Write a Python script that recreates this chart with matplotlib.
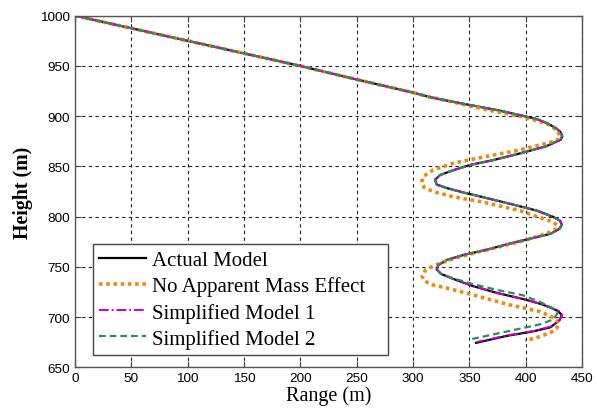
import matplotlib.pyplot as plt

# данные: Range (m) / Height (m)
actual_x = [0, 50, 100, 150, 200, 250, 275, 300, 315, 330, 351, 375, 395, 410, 419, 427, 431, 432.5,
            431, 427.5, 418, 395, 370, 351, 335, 324, 319.5, 321, 330, 345, 360, 389, 410, 424,
            430.5, 432, 430, 422, 407, 385, 365, 345, 330, 322.5, 321, 325, 336, 353, 375, 398,
            414, 422, 429, 432, 430, 422, 407, 383, 356]
actual_y = [1000, 987.5, 975, 962.5, 950, 936.5, 930, 923.5, 919, 915.5, 911, 906, 901, 897, 893, 888, 884, 880,
            876.5, 874.8, 870, 863, 856, 851.6, 846, 841.5, 836.7, 832, 828.5, 824, 820, 812, 806, 800,
            796, 792, 788, 783, 779, 773, 767, 762, 757, 752, 747.5, 743, 738, 731, 724, 718,
            713, 709.5, 706, 702, 697, 690, 686, 681.4, 674.5]

noam_x = [0, 50, 100, 150, 200, 250, 275, 300, 315, 336, 365, 395, 418, 428, 430.5, 429, 425, 418.6,
          395, 365.4, 335.8, 318, 309, 307.5, 310, 318, 335, 360, 395, 413, 424, 428, 427, 420,
          401, 380, 360, 338, 320, 311, 308, 310, 318, 330, 354, 383, 413, 427.5, 429.5, 427,
          422, 410, 399.4]
noam_y = [1000, 987.5, 975, 962.5, 950, 936.5, 930, 923.5, 919, 914, 906.5, 900, 893, 886, 880, 877, 875, 873,
          866.5, 860, 853.3, 846.6, 840, 834, 829, 825, 820, 815, 806, 799, 795, 791.5, 788, 784,
          777, 771, 765.5, 759, 752, 747, 741, 736, 732, 729, 722, 713, 705.5, 698, 693, 688.5,
          684.7, 679.8, 676.5]

simp1_x = [0, 50, 100, 150, 200, 250, 275, 300, 315, 330, 351, 375, 395, 410, 419, 427, 431, 432.5,
           431, 427.5, 418, 395, 370, 351, 335, 324, 319.5, 321, 330, 345, 360, 389, 410, 424,
           430.5, 432, 430, 422, 407, 385, 365, 345, 330, 322.5, 321, 325, 336, 353, 375, 398,
           414, 422, 429, 432.5, 430, 423, 408, 384, 357]
simp1_y = [1000, 987.5, 975, 962.5, 950, 936.5, 930, 923.5, 919, 915.5, 911, 906, 901, 897, 893, 888, 884, 880,
           876.5, 874.8, 870, 863, 856, 851.6, 846, 841.5, 836.7, 832, 828.5, 824, 820, 812, 806, 800,
           796, 792, 788, 783, 779, 773, 767, 762, 757, 752, 747.5, 743, 738, 731, 724, 718,
           713, 709.5, 706, 702.5, 697, 691, 686.5, 682, 675.5]

simp2_x = [0, 50, 100, 150, 200, 250, 275, 300, 315, 330, 351, 375, 395, 410, 419, 427, 431, 432,
           430.5, 427, 418, 395, 370, 351, 335, 324, 319.5, 321, 330, 345, 360, 389, 410, 424,
           430.5, 432, 430, 422, 407, 385, 365, 345, 330, 322.5, 321, 325, 336, 353, 375, 397,
           413, 424, 428, 425, 413, 383, 351]
simp2_y = [1000, 987.5, 975, 962.5, 950, 936.5, 930, 923.5, 919, 915.5, 911, 906, 901, 897, 893, 888, 884, 880,
           876.5, 874.8, 870, 863, 856, 851.6, 846, 841.5, 836.7, 832, 828.5, 824, 820, 812, 806, 800,
           796, 792, 788, 783, 779, 773, 767, 762, 757, 752, 747.5, 743, 738.5, 733, 727, 722,
           715, 709, 704, 698, 693, 685.7, 678]

labels = ["Actual Model", "No Apparent Mass Effect", "Simplified Model 1", "Simplified Model 2"]
x_ticks = list(range(0, 451, 50))
y_ticks = list(range(650, 1001, 50))

fig = plt.figure(figsize=(5.97, 4.14), dpi=100)
ax = fig.add_axes([0.1256, 0.110, 0.8494, 0.8497])

ax.plot(actual_x, actual_y, color="black", lw=1.6, ls="-", label=labels[0])
ax.plot(noam_x, noam_y, color="#EE8A12", lw=2.6, ls=(0, (1, 1)), label=labels[1])
ax.plot(simp1_x, simp1_y, color="#CC00CC", lw=1.4, ls=(0, (5, 1.5, 1, 1.5)), label=labels[2])
ax.plot(simp2_x, simp2_y, color="#2E8B57", lw=1.6, ls=(0, (3, 1.8)), label=labels[3])

ax.set_xlim(0, 450)
ax.set_ylim(650, 1000)
ax.set_xticks(x_ticks)
ax.set_yticks(y_ticks)
ax.tick_params(direction="in", top=True, right=True, length=4, width=0.8,
               labelsize=9.7, color="#444444")
for lab in ax.get_xticklabels() + ax.get_yticklabels():
    lab.set_family("Liberation Sans")
ax.grid(True, color="#222222", ls=(0, (3, 3)), lw=0.8)
for s in ax.spines.values():
    s.set_color("#555555")
    s.set_linewidth(1.0)

ax.set_xlabel("Range (m)", family="Liberation Serif", fontsize=14.5, labelpad=1)
ax.set_ylabel("Height (m)", family="Liberation Serif", fontsize=14.3, fontweight="bold", labelpad=5)

# рамка легенды растянута по ширине как в оригинале
leg = ax.legend(loc="lower left", bbox_to_anchor=(0.0355, 0.0355, 0.582, 0.32), borderaxespad=0,
                mode="expand", prop={"family": "Liberation Serif", "size": 15}, fancybox=False,
                framealpha=1, edgecolor="#444444", handlelength=2.25, handletextpad=0.28,
                labelspacing=0.3, borderpad=0.3)
leg.get_frame().set_linewidth(1.0)

fig.savefig("out.png", dpi=100)
